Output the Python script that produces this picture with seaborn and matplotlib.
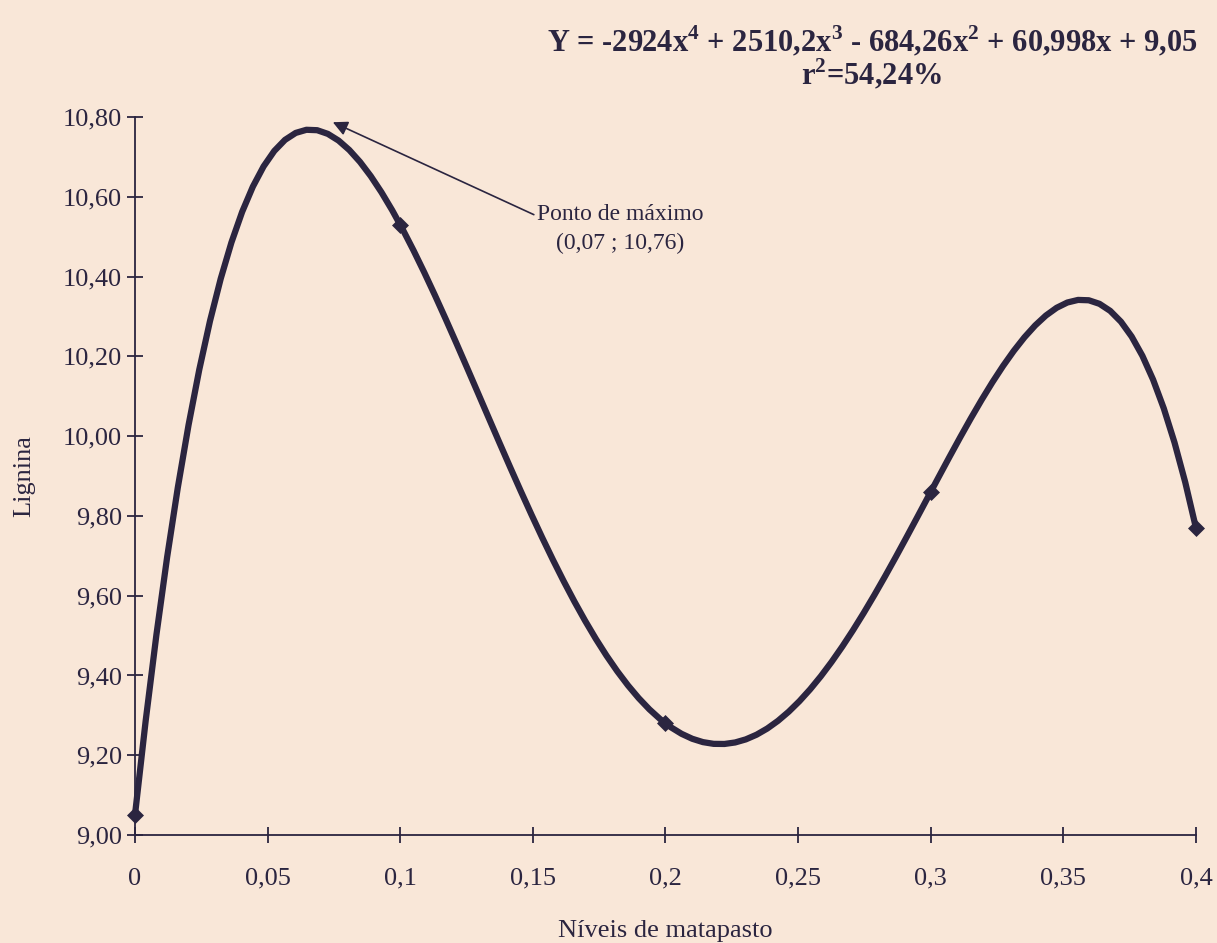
import pandas as pd
import matplotlib.pyplot as plt
import seaborn as sns

# Observed means
niveis = [0, 0.1, 0.2, 0.3, 0.4]
lignina = [9.05, 10.53, 9.28, 9.86, 9.77]
x_ticks = [0, 0.05, 0.1, 0.15, 0.2, 0.25, 0.3, 0.35, 0.4]
x_labels = ["0", "0,05", "0,1", "0,15", "0,2", "0,25", "0,3", "0,35", "0,4"]
y_ticks = [9.0, 9.2, 9.4, 9.6, 9.8, 10.0, 10.2, 10.4, 10.6, 10.8]
y_labels = ["9,00", "9,20", "9,40", "9,60", "9,80", "10,00", "10,20", "10,40", "10,60", "10,80"]

df = pd.DataFrame({"niveis": niveis, "lignina": lignina})

paper = "#f9e7d8"
ink = "#2b2540"

sns.set_style("white")
plt.rcParams["font.family"] = ["Liberation Serif", "DejaVu Serif"]
plt.rcParams["mathtext.fontset"] = "custom"
plt.rcParams["mathtext.rm"] = "Liberation Serif"
plt.rcParams["mathtext.bf"] = "Liberation Serif:bold"

fig = plt.figure(figsize=(12.17, 9.43), dpi=100, facecolor=paper)
ax = fig.add_axes([0.1109, 0.1145, 0.8718, 0.7614], facecolor=paper)

# 4th degree polynomial trend through the points
sns.regplot(
    data=df,
    x="niveis",
    y="lignina",
    order=4,
    ci=None,
    ax=ax,
    marker="D",
    scatter_kws={"s": 75, "color": ink, "alpha": 1, "linewidths": 0,
                 "clip_on": False, "zorder": 4},
    line_kws={"color": ink, "linewidth": 4.5, "clip_on": False},
)

ax.set_xlim(0, 0.4)
ax.set_ylim(9.0, 10.8)
ax.set_xticks(x_ticks)
ax.set_xticklabels(x_labels)
ax.set_yticks(y_ticks)
ax.set_yticklabels(y_labels)
ax.tick_params(bottom=True, left=True, direction="inout", length=11, width=1.3,
               color=ink, labelsize=19, labelcolor=ink)
ax.tick_params(axis="x", pad=18)
ax.tick_params(axis="y", pad=4)

for side in ["top", "right"]:
    ax.spines[side].set_visible(False)
for side in ["left", "bottom"]:
    ax.spines[side].set_color(ink)
    ax.spines[side].set_linewidth(1.3)

ax.set_xlabel("Níveis de matapasto", fontsize=19, color=ink, labelpad=22)
ax.set_ylabel("Lignina", fontsize=19, color=ink, labelpad=20)

ax.annotate(
    "Ponto de máximo\n(0,07 ; 10,76)",
    xy=(0.0746, 10.787),
    xytext=(0.183, 10.52),
    ha="center",
    va="center",
    fontsize=17,
    color=ink,
    linespacing=1.5,
    arrowprops=dict(arrowstyle="-|>", color=ink, lw=1.2, mutation_scale=22,
                    shrinkA=0, shrinkB=0, relpos=(0.0, 0.75)),
)

fig.text(0.7165, 0.957,
         r"Y = -2924x$^{\mathbf{4}}$ + 2510,2x$^{\mathbf{3}}$ - 684,26x$^{\mathbf{2}}$ + 60,998x + 9,05",
         ha="center", va="center", fontsize=22, fontweight="bold", color=ink)
fig.text(0.7165, 0.921, r"r$^{\mathbf{2}}$=54,24%", ha="center", va="center",
         fontsize=22, fontweight="bold", color=ink)

fig.savefig("out.png", dpi=100, facecolor=paper)
